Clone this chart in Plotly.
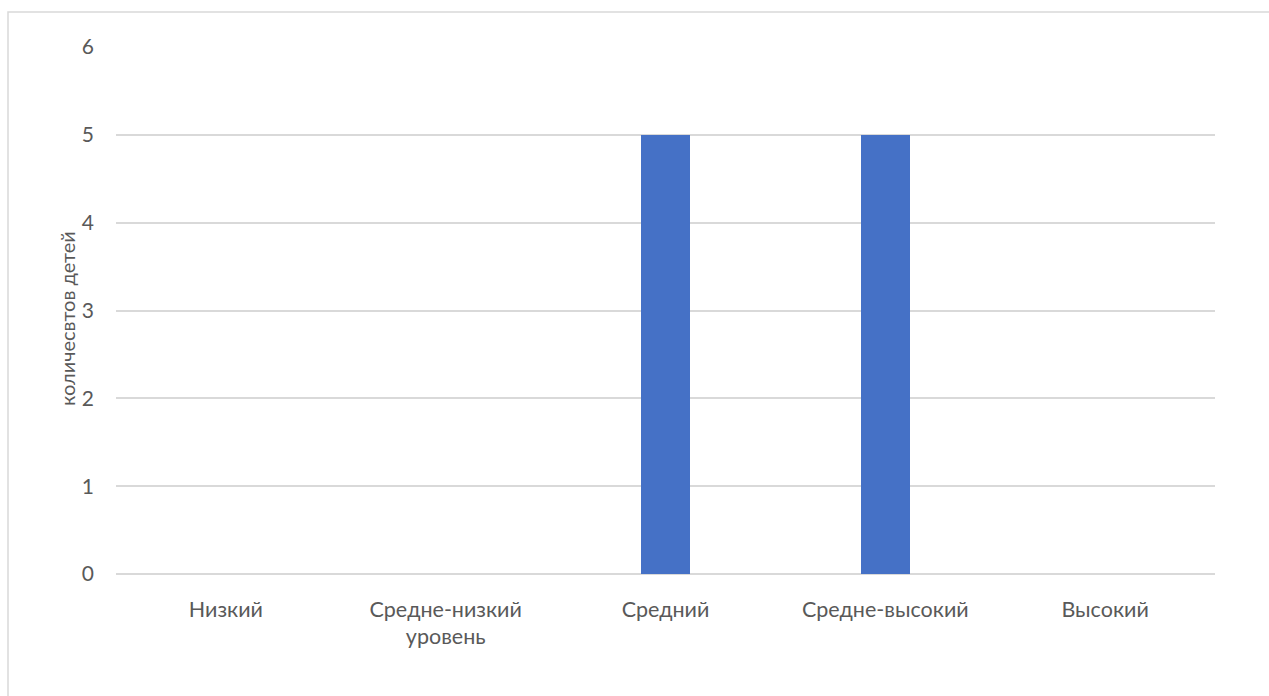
import plotly.graph_objects as go

categories = ["Низкий", "Средне-низкий<br>уровень", "Средний", "Средне-высокий", "Высокий"]
values = [0, 0, 5, 5, 0]
y_ticks = [0, 1, 2, 3, 4, 5, 6]
y_title = "количесвтов детей"

W, H = 1269, 696
L, R, T, B = 116, 54, 47, 122
pw, ph = W - L - R, H - T - B

fig = go.Figure()
fig.add_trace(go.Bar(
    x=categories, y=values,
    marker=dict(color="#4571c6", line=dict(width=0)),
    width=0.223,
))

fig.update_layout(
    width=W, height=H,
    margin=dict(l=L, r=R, t=T, b=B, autoexpand=False),
    paper_bgcolor="white", plot_bgcolor="white",
    font=dict(family="Lato, Open Sans, sans-serif", size=21, color="#595959"),
    showlegend=False,
    bargap=0,
    xaxis=dict(
        showgrid=False, showline=False, zeroline=False, ticks="",
        tickfont=dict(size=21.5, color="#595959"),
        range=[-0.5, 4.5], ticklabelstandoff=20,
    ),
    yaxis=dict(
        range=[0, 6], tickvals=y_ticks, showgrid=True,
        gridcolor="#d9d9d9", gridwidth=1.5,
        zeroline=True, zerolinecolor="#d9d9d9", zerolinewidth=2,
        showline=False, ticks="", ticklabelstandoff=21,
        tickfont=dict(size=21, color="#595959"),
    ),
)

# y-axis title
fig.add_annotation(
    text=y_title, textangle=-90, showarrow=False,
    xref="paper", yref="paper",
    x=(67 - L) / pw, y=(H - B - 319) / ph,
    xanchor="center", yanchor="middle",
    font=dict(size=20, color="#595959"),
)

# chart frame border
fig.add_shape(
    type="rect", xref="paper", yref="paper",
    x0=(8 - L) / pw, x1=(W + 5 - L) / pw,
    y0=-(H + 5 - T - ph) / ph, y1=(H - 12 - B) / ph,
    line=dict(color="#d9d9d9", width=1.5), fillcolor="rgba(0,0,0,0)", layer="below",
)

fig.write_html("out.html")
